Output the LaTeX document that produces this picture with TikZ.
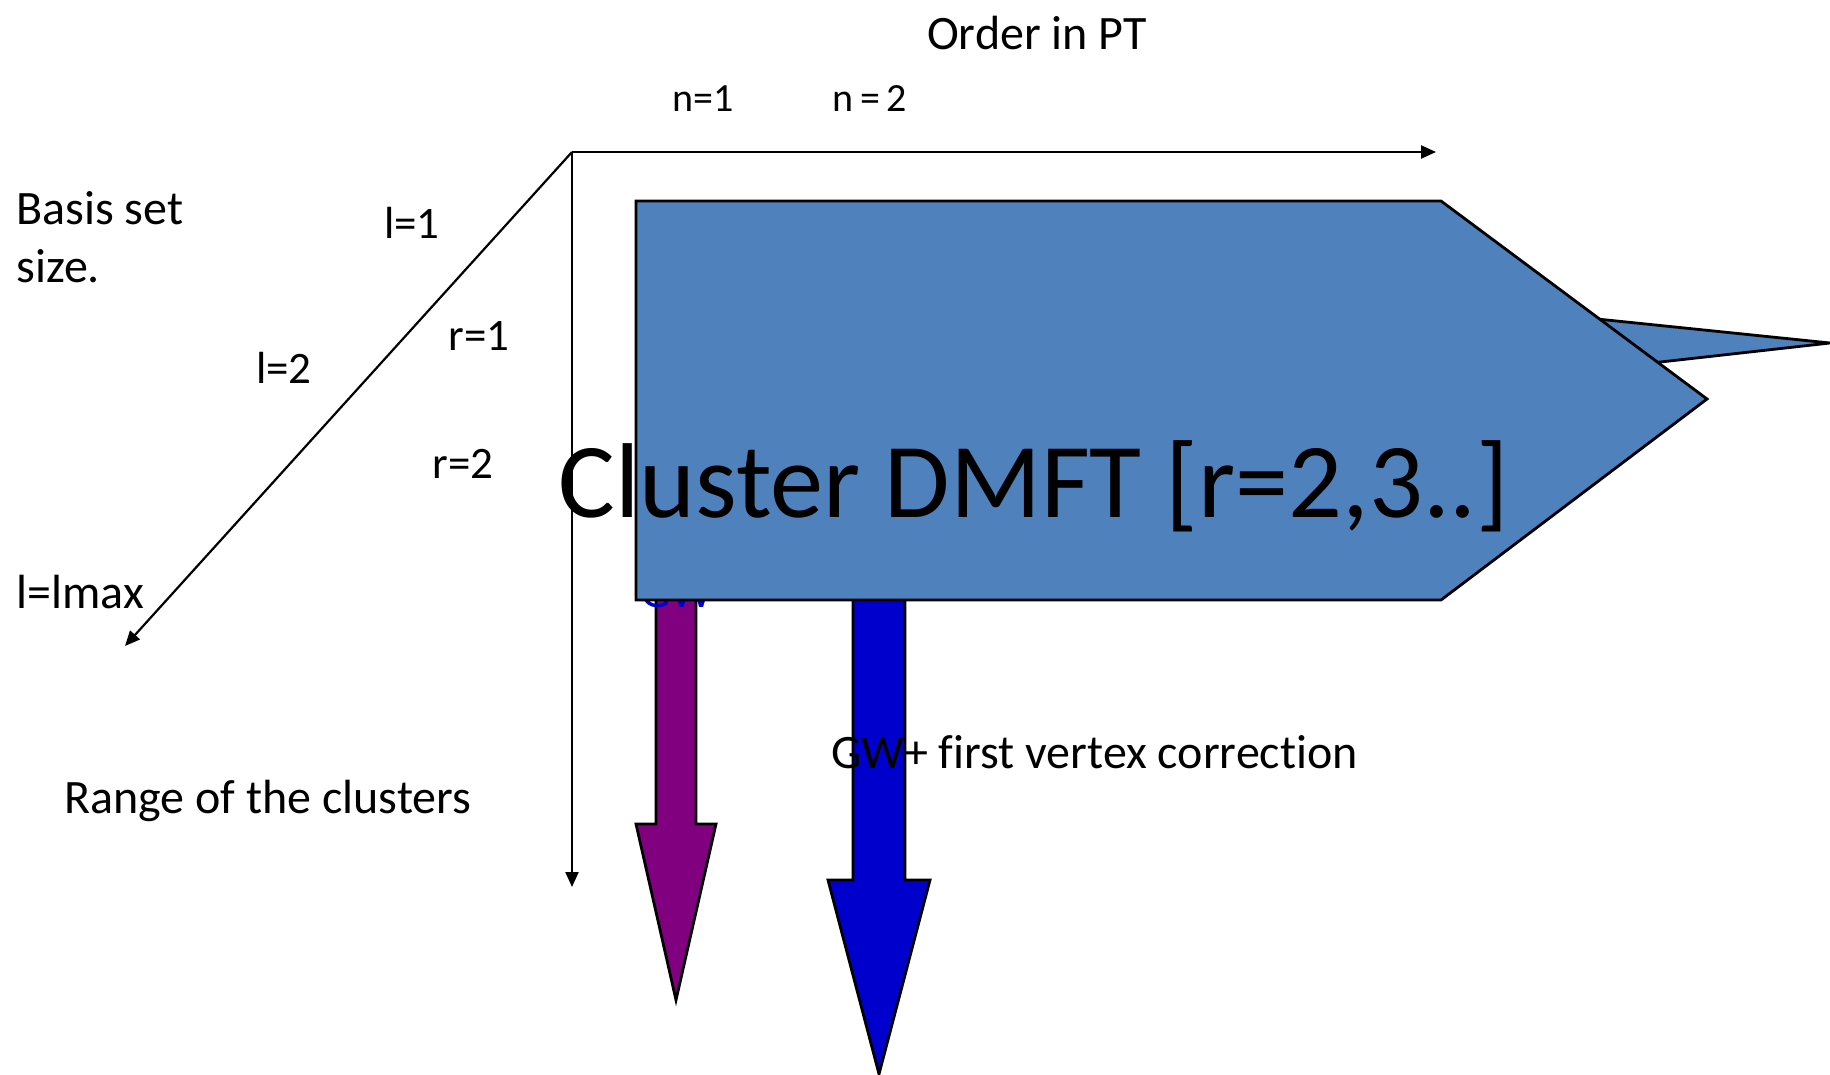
\documentclass[tikz,border=0pt]{standalone}
\usepackage{fontspec}
\setmainfont[Ligatures={NoCommon,NoContextual}]{Carlito}
\usepackage{tikz}
\usetikzlibrary{arrows.meta,positioning}
\definecolor{slab}{HTML}{4F81BD}
\definecolor{gwpurple}{HTML}{800080}
\definecolor{gwblue}{HTML}{0000CC}
\tikzset{
  >={Triangle[length=7.5pt,width=6.5pt]},
  axis/.style={->, line width=1.1pt, color=black},
  lbl/.style={inner sep=0pt, font=\fontsize{24}{29}\selectfont},
  small/.style={inner sep=0pt, font=\fontsize{22.5}{27}\selectfont},
  tiny/.style={inner sep=0pt, font=\fontsize{20}{24}\selectfont},
  huge/.style={inner sep=0pt, font=\fontsize{53.2}{60}\selectfont},
  blockarrow/.style={draw=black, line width=1.4pt, line join=miter},
  slabshape/.style={draw=black, fill=slab, line width=1.4pt, line join=miter}
}
\begin{document}
\begin{tikzpicture}[x=0.5pt,y=-0.5pt]
  \useasboundingbox (0,0) rectangle (1830,1075);
  % axes
  \coordinate (corner) at (572,152);
  \coordinate (ptend) at (1436,152);
  \coordinate (rangeend) at (572,887);
  \coordinate (basisend) at (125,646);
  \draw[axis] (corner)--(ptend);
  \draw[axis] (corner)--(rangeend);
  \draw[axis] (corner)--(basisend);
  % thin wedge behind the slab
  \filldraw[slabshape] (1830,343) -- (1500,309) -- (1500,380) -- cycle;
  % block arrows
  \filldraw[blockarrow, fill=gwpurple] (656,560) -- (656,824) -- (636,824) -- (676,1000)
    -- (716,824) -- (696,824) -- (696,560) -- cycle;
  \node[lbl, text=gwblue, anchor=base west] (gw) at (640,607) {GW};
  \filldraw[blockarrow, fill=gwblue] (853,560) -- (853,880) -- (828,880) -- (879,1074)
    -- (930,880) -- (905,880) -- (905,560) -- cycle;
  % cluster DMFT slab
  \filldraw[slabshape] (636,201) -- (1441,201) -- (1707,399) -- (1441,600) -- (636,600) -- cycle;
  % labels
  \node[lbl] (order) at (1037,33) {Order in PT};
  \node[tiny] (n1) at (703,99) {n=1};
  \node[tiny] (n2) at (870,99) {n\,=\,2};
  \node[lbl, anchor=west, align=left] (basis) at (16,237) {Basis set\\size.};
  \node[small] (l1) at (412,223) {l=1};
  \node[small] (r1) at (479,336) {r=1};
  \node[small] (l2) at (284,368) {l=2};
  \node[small] (r2) at (463,464) {r=2};
  \node[lbl, anchor=west] (lmax) at (16,592) {l=lmax};
  \node[lbl, anchor=west] (range) at (64,801) {Range of the clusters};
  \node[lbl, anchor=west] (vertex) at (831,752) {GW+ first vertex correction};
  \node[huge] (dmft) at (1034,486) {Cluster DMFT [r=2,3..]};
\end{tikzpicture}
\end{document}
